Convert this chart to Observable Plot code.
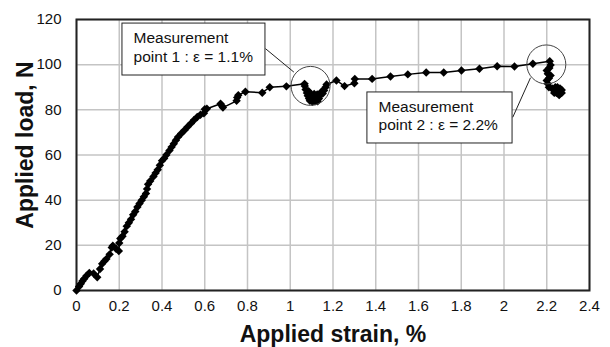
<!DOCTYPE html>
<html>
<head>
<meta charset="utf-8">
<script src="https://cdn.jsdelivr.net/npm/d3@7"></script>
<script src="https://cdn.jsdelivr.net/npm/@observablehq/plot@0.6"></script>
<style>
  html, body { margin: 0; padding: 0; background: #fff; }
  #chart { width: 610px; height: 347px; }
</style>
</head>
<body>
<div id="chart"></div>
<script>
// Measured curve: applied strain (%) vs applied load (N)
const strain = [
  0, 0.012, 0.02, 0.028, 0.036, 0.047, 0.06, 0.08, 0.097, 0.11,
  0.12, 0.13, 0.14, 0.155, 0.165, 0.17, 0.185, 0.198, 0.2, 0.205,
  0.215, 0.225, 0.235, 0.245, 0.255, 0.265, 0.275, 0.285, 0.295, 0.305,
  0.315, 0.325, 0.33, 0.335, 0.345, 0.36, 0.37, 0.38, 0.39, 0.4,
  0.41, 0.42, 0.435, 0.445, 0.455, 0.465, 0.475, 0.49, 0.505, 0.52,
  0.535, 0.55, 0.565, 0.58, 0.596, 0.6, 0.61, 0.674, 0.68, 0.685,
  0.749, 0.752, 0.757, 0.79, 0.869, 0.904, 0.982, 1.067,
  1.068, 1.072, 1.078, 1.082, 1.088, 1.092, 1.098, 1.104, 1.11, 1.116, 1.122, 1.128, 1.134, 1.14,
  1.1, 1.094, 1.106, 1.118, 1.126, 1.086, 1.112, 1.13,
  1.146, 1.152, 1.158, 1.165, 1.17,
  1.216, 1.254, 1.3, 1.302, 1.383, 1.469, 1.55, 1.636, 1.718, 1.801, 1.885, 1.968, 2.049, 2.135, 2.214,
  2.218, 2.212, 2.2, 2.205, 2.218, 2.21, 2.2, 2.205, 2.21,
  2.225, 2.235, 2.24, 2.245, 2.25, 2.255, 2.26, 2.265, 2.27, 2.258, 2.245, 2.235, 2.25, 2.262, 2.27
];
const load = [
  0, 1.8, 3, 4.2, 5.2, 6.5, 7.8, 7.5, 5.9, 9.5,
  11.8, 13, 14, 16, 19, 19.8, 18.5, 17.5, 21, 23,
  24, 26, 28.5, 30, 31.5, 33.5, 35, 37, 38.5, 40,
  41.5, 43, 45, 47, 48.5, 50.5, 52, 53.5, 55.5, 57.5,
  58.5, 60, 62, 63.5, 65, 66.5, 68, 69.5, 71, 72.5,
  74, 75.5, 76.8, 77.8, 78.5, 80.3, 80.5, 82.7, 81.8, 81,
  84, 85.5, 86.5, 88, 87.6, 90, 90.4, 91.5,
  90.5, 89, 87.5, 86.2, 85, 84, 84.6, 83.6, 84.2, 83.8, 84.6, 83.8, 85, 86.5,
  86, 87.2, 85.6, 85.2, 86.8, 88.2, 87, 84.8,
  88, 87.2, 88.6, 90, 91.2,
  93, 90.5, 91.8, 93.7, 93.7, 94.8, 95.7, 96.5, 96.5, 97.4, 98.2, 99.3, 99.2, 100.4, 101.5,
  99.8, 98.5, 97.4, 96, 95.2, 94, 93, 91.5, 90,
  89.5, 88.5, 90, 87.5, 89, 88, 87, 88.5, 87.5, 86.5, 88.5, 87.5, 90, 89.5, 88.8
];

// Axis ticks
const xTicks = [0, 0.2, 0.4, 0.6, 0.8, 1, 1.2, 1.4, 1.6, 1.8, 2, 2.2, 2.4];
const yTicks = [0, 20, 40, 60, 80, 100, 120];

// Annotations (in data units)
const circleX = [1.095, 2.198];
const circleY = [90.6, 100.1];
const boxX1 = [0.215, 1.361];
const boxX2 = [0.884, 2.040];
const boxY1 = [95.2, 65.1];
const boxY2 = [118.2, 87.7];
const leaderX1 = [0.884, 2.041];
const leaderY1 = [107.1, 76.7];
const leaderX2 = [1.017, 2.124];
const leaderY2 = [96.7, 94.2];
const noteText = ["Measurement", "point 1 : \u03b5 = 1.1%", "Measurement", "point 2 : \u03b5 = 2.2%"];
const noteX = [0.267, 0.267, 1.413, 1.413];
const noteY = [111.6, 103.6, 81.2, 73.1];

const xTitle = "Applied strain, %";
const yTitle = "Applied load, N";

const points = strain.map((x, i) => ({x, y: load[i]}));
const circles = circleX.map((x, i) => ({x, y: circleY[i]}));
const boxes = boxX1.map((x1, i) => ({x1, x2: boxX2[i], y1: boxY1[i], y2: boxY2[i]}));
const leaders = leaderX1.map((x1, i) => ({x1, y1: leaderY1[i], x2: leaderX2[i], y2: leaderY2[i]}));
const notes = noteText.map((t, i) => ({t, x: noteX[i], y: noteY[i]}));

const chart = Plot.plot({
  width: 610,
  height: 347,
  marginLeft: 76,
  marginRight: 21,
  marginTop: 19,
  marginBottom: 57,
  style: {fontFamily: "'Liberation Sans', Arial, sans-serif", background: "#fff", color: "#111"},
  x: {domain: [0, 2.4]},
  y: {domain: [0, 120]},
  marks: [
    Plot.gridX(xTicks, {stroke: "#c4c4c4", strokeOpacity: 1, strokeWidth: 1.5}),
    Plot.gridY(yTicks, {stroke: "#c4c4c4", strokeOpacity: 1, strokeWidth: 1.5}),
    Plot.axisX(xTicks, {tickSize: 0, tickPadding: 10, fontSize: 15, label: null, fill: "#111", tickFormat: d => `${d}`}),
    Plot.axisY(yTicks, {tickSize: 0, tickPadding: 15, fontSize: 15, label: null, fill: "#111", tickFormat: d => `${d}`}),
    Plot.frame({stroke: "#222", strokeWidth: 2}),
    Plot.line(points, {x: "x", y: "y", stroke: "#000", strokeWidth: 1.5}),
    Plot.dot(points, {x: "x", y: "y", symbol: "diamond2", r: 3.8, fill: "#000", stroke: "none"}),
    Plot.rect(boxes, {x1: "x1", x2: "x2", y1: "y1", y2: "y2", fill: "#fff", stroke: "#222", strokeWidth: 1}),
    Plot.link(leaders, {x1: "x1", y1: "y1", x2: "x2", y2: "y2", stroke: "#222", strokeWidth: 1}),
    Plot.dot(circles, {x: "x", y: "y", r: 19.5, fill: "none", stroke: "#444", strokeWidth: 1}),
    Plot.text(notes, {x: "x", y: "y", text: "t", textAnchor: "start", fontSize: 15.5, fill: "#111"}),
    Plot.text([xTitle], {frameAnchor: "bottom", textAnchor: "middle", lineAnchor: "middle", dy: 44, fontSize: 23, fontWeight: "bold", fill: "#111"}),
    Plot.text([yTitle], {frameAnchor: "left", textAnchor: "middle", lineAnchor: "middle", rotate: -90, dx: -51, dy: -10, fontSize: 23, fontWeight: "bold", fill: "#111"})
  ]
});
document.getElementById("chart").appendChild(chart);
</script>
</body>
</html>
